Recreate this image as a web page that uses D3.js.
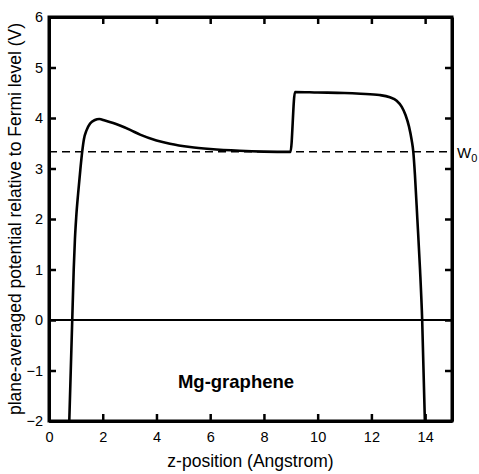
<!DOCTYPE html>
<html>
<head>
<meta charset="utf-8">
<script src="https://cdn.jsdelivr.net/npm/d3@7"></script>
<style>
  body { margin: 0; background: #fff; }
  svg { display: block; font-family: Arial, "Liberation Sans", sans-serif; }
</style>
</head>
<body>
<svg id="chart" width="479" height="474"></svg>
<script>
// Plane-averaged electrostatic potential across the Mg-graphene slab
const zPos = [0.755, 0.865, 0.92, 0.965, 1.015, 1.085, 1.165, 1.235, 1.30, 1.40, 1.53, 1.71, 1.87, 2.08, 2.39, 2.64, 3.00, 3.39, 4.00, 4.50, 5.25, 6.00, 7.10, 8.00, 8.99, 9.155, 10.0, 11.0, 11.6, 12.3, 12.69, 12.94, 13.13, 13.27, 13.40, 13.50, 13.56, 13.62, 13.71, 13.81, 13.89, 13.99];
const potential = [-2.0, 0.0, 1.0, 1.6, 2.05, 2.51, 2.97, 3.33, 3.58, 3.76, 3.89, 3.96, 3.98, 3.95, 3.90, 3.85, 3.77, 3.67, 3.555, 3.49, 3.425, 3.385, 3.35, 3.335, 3.33, 4.515, 4.505, 4.495, 4.48, 4.455, 4.41, 4.34, 4.22, 4.06, 3.83, 3.56, 3.33, 2.88, 2.0, 1.0, 0.0, -2.0];
const workFunction = 3.33;
const xTicks = [0, 2, 4, 6, 8, 10, 12, 14];
const yTicks = [-2, -1, 0, 1, 2, 3, 4, 5, 6];

const svg = d3.select("#chart");
const plotL = 49, plotR = 452, plotT = 17, plotB = 421;

const x = d3.scaleLinear().domain([0, 15]).range([plotL, plotR]);
const y = d3.scaleLinear().domain([-2, 6]).range([plotB, plotT]);

// zero line
svg.append("line")
  .attr("x1", x(0)).attr("x2", x(15))
  .attr("y1", y(0)).attr("y2", y(0))
  .attr("stroke", "#000").attr("stroke-width", 2.2);

// work-function level (dashed)
svg.append("line")
  .attr("x1", x(0)).attr("x2", x(15))
  .attr("y1", y(workFunction)).attr("y2", y(workFunction))
  .attr("stroke", "#000").attr("stroke-width", 1.5)
  .attr("stroke-dasharray", "8,5");

// potential curve
const line = d3.line()
  .x((d, i) => x(zPos[i]))
  .y(d => y(d))
  .curve(d3.curveMonotoneX);
svg.append("path")
  .datum(potential)
  .attr("d", line)
  .attr("fill", "none")
  .attr("stroke", "#000")
  .attr("stroke-width", 2.6)
  .attr("stroke-linejoin", "round");

// axes with inward ticks
function styleAxis(g) {
  g.select(".domain").attr("stroke-width", 3).attr("stroke", "#000");
  g.selectAll(".tick line").attr("stroke-width", 2.5).attr("stroke", "#000");
  g.selectAll(".tick text").attr("font-size", 14.5).attr("fill", "#000")
    .attr("font-family", "Arial, 'Liberation Sans', sans-serif");
}

svg.append("g").attr("transform", `translate(0,${plotB})`)
  .call(d3.axisBottom(x).tickValues(xTicks).tickSizeInner(-7).tickSizeOuter(0).tickPadding(11))
  .call(styleAxis);
svg.append("g").attr("transform", `translate(0,${plotT})`)
  .call(d3.axisTop(x).tickValues(xTicks.filter(v => v > 0)).tickSizeInner(-7).tickSizeOuter(0).tickFormat(""))
  .call(styleAxis);
svg.append("g").attr("transform", `translate(${plotL},0)`)
  .call(d3.axisLeft(y).tickValues(yTicks).tickSizeInner(-7).tickSizeOuter(0).tickPadding(6))
  .call(styleAxis);
svg.append("g").attr("transform", `translate(${plotR},0)`)
  .call(d3.axisRight(y).tickValues(yTicks.filter(v => v > -2 && v < 6)).tickSizeInner(-7).tickSizeOuter(0).tickFormat(""))
  .call(styleAxis);

// square off the frame corners
svg.append("rect")
  .attr("x", plotL).attr("y", plotT)
  .attr("width", plotR - plotL).attr("height", plotB - plotT)
  .attr("fill", "none").attr("stroke", "#000").attr("stroke-width", 3);

// W0 label
const w0 = svg.append("text")
  .attr("x", plotR + 5).attr("y", y(workFunction) + 6)
  .attr("font-size", 15).attr("fill", "#000");
w0.append("tspan").text("W");
w0.append("tspan").attr("dy", 4).attr("font-size", 11).text("0");

// axis titles
svg.append("text")
  .attr("x", (plotL + plotR) / 2).attr("y", 467)
  .attr("text-anchor", "middle").attr("font-size", 17.5)
  .text("z-position (Angstrom)");
svg.append("text")
  .attr("transform", `translate(21,${(plotT + plotB) / 2}) rotate(-90)`)
  .attr("text-anchor", "middle").attr("font-size", 17.5)
  .text("plane-averaged potential relative to Fermi level (V)");

// system label
svg.append("text")
  .attr("x", 236).attr("y", 388)
  .attr("text-anchor", "middle").attr("font-size", 18.5).attr("font-weight", "bold")
  .text("Mg-graphene");
</script>
</body>
</html>
